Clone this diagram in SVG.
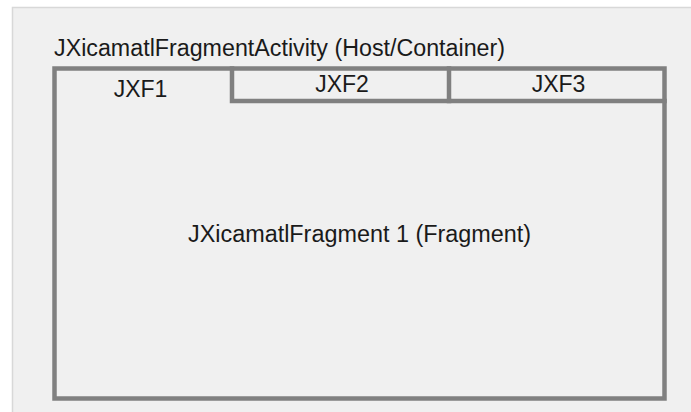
<svg xmlns="http://www.w3.org/2000/svg" width="691" height="412" viewBox="0 0 691 412">
  <style>
    .frame { fill: none; stroke: #808080; stroke-width: 4.5; stroke-linecap: square; }
    .label { font-family: "Liberation Sans", Arial, sans-serif; font-size: 23px; fill: #1a1a1a; }
  </style>
  <!-- page -->
  <rect x="0" y="0" width="691" height="412" fill="#ffffff"/>
  <rect x="12" y="7" width="679" height="405" fill="#f0f0f0"/>
  <path d="M12.5 412 V7.5 H691" fill="none" stroke="#d8d8d8" stroke-width="1.5"/>

  <g id="host">
    <text class="label" x="54" y="56" textLength="451" lengthAdjust="spacingAndGlyphs">JXicamatlFragmentActivity (Host/Container)</text>
  </g>

  <g id="container">
    <rect class="frame" x="54.5" y="68.5" width="610" height="330"/>
  </g>

  <g id="tab-jxf1">
    <text class="label" x="140.5" y="96.5" text-anchor="middle">JXF1</text>
  </g>
  <g id="tab-jxf2">
    <path class="frame" d="M232 68.5 V101 H449"/>
    <text class="label" x="342" y="91.5" text-anchor="middle">JXF2</text>
  </g>
  <g id="tab-jxf3">
    <path class="frame" d="M449 68.5 V101 H664.5"/>
    <text class="label" x="558.5" y="91.5" text-anchor="middle">JXF3</text>
  </g>

  <g id="fragment">
    <text class="label" x="359.5" y="242" text-anchor="middle" textLength="343" lengthAdjust="spacingAndGlyphs">JXicamatlFragment 1 (Fragment)</text>
  </g>
</svg>
